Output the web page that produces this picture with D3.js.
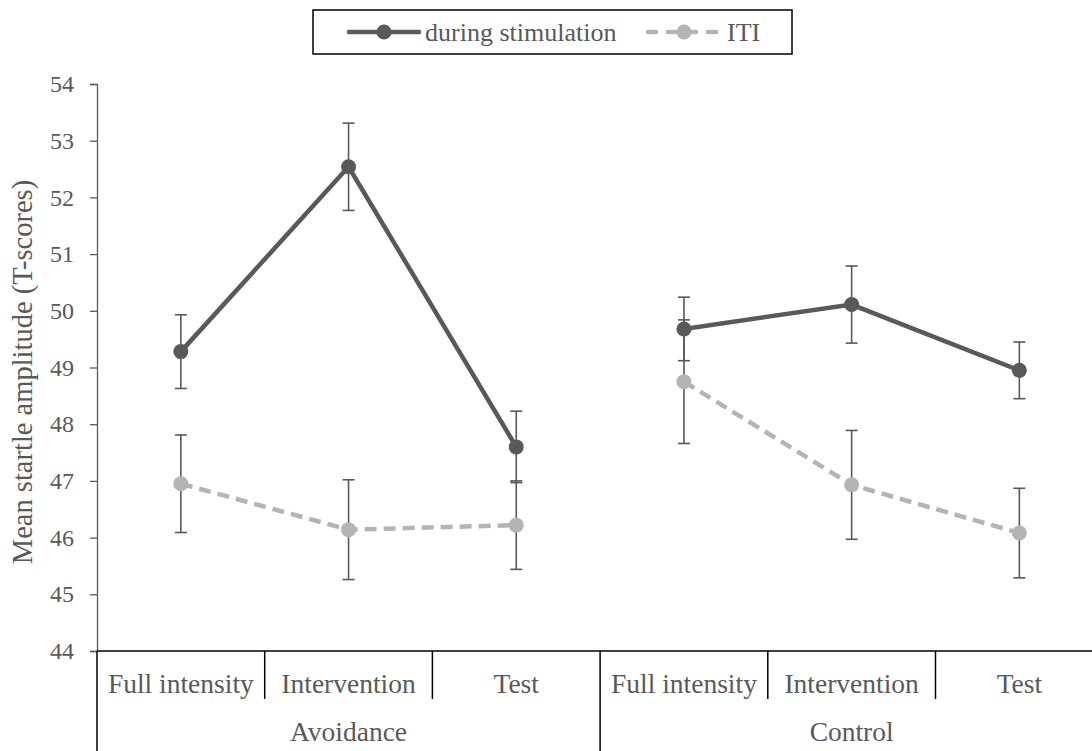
<!DOCTYPE html>
<html>
<head>
<meta charset="utf-8">
<script src="https://cdn.jsdelivr.net/npm/d3@7"></script>
<style>
  body { margin: 0; background: #fff; }
  svg text { font-family: "Liberation Serif", "Times New Roman", serif; fill: #595959; }
</style>
</head>
<body>
<div id="chart"></div>
<script>
// data
var groups = ['Avoidance', 'Control'];
var categories = ['Full intensity', 'Intervention', 'Test', 'Full intensity', 'Intervention', 'Test'];
var during = [49.28, 52.54, 47.60, 49.68, 50.11, 48.95];
var duringErr = [0.65, 0.77, 0.63, 0.56, 0.68, 0.50];
var iti = [46.95, 46.14, 46.22, 48.75, 46.93, 46.08];
var itiErr = [0.86, 0.88, 0.78, 1.09, 0.96, 0.79];
var yTicks = [44, 45, 46, 47, 48, 49, 50, 51, 52, 53, 54];
var seriesNames = ['during stimulation', 'ITI'];

var chart_width = 1092;
var chart_height = 751;
var plotLeft = 97, plotTop = 84, plotBottom = 651;
var catWidth = 167.7;

var svg = d3.select('#chart')
    .append('svg')
    .attr('width', chart_width)
    .attr('height', chart_height);

var xScale = d3.scaleBand()
    .domain(d3.range(categories.length))
    .range([plotLeft, plotLeft + catWidth * categories.length])
    .padding(0);

var yScale = d3.scaleLinear()
    .domain([44, 54])
    .range([plotBottom, plotTop]);

function cx(i) { return xScale(i) + xScale.bandwidth() / 2; }

// y axis
var yAxis = d3.axisLeft(yScale)
    .tickValues(yTicks)
    .tickSize(7)
    .tickPadding(16)
    .tickFormat(d3.format('d'));

var gy = svg.append('g')
    .attr('transform', 'translate(' + plotLeft + ',0)')
    .call(yAxis);
gy.select('.domain').attr('stroke', '#595959').attr('stroke-width', 1.3);
gy.selectAll('.tick line').attr('stroke', '#595959').attr('stroke-width', 1.3);
gy.selectAll('.tick text')
    .style('font-family', '"Liberation Serif", serif')
    .style('font-size', '24px')
    .attr('fill', '#595959');

// y title
svg.append('text')
    .attr('transform', 'translate(32,372) rotate(-90)')
    .attr('text-anchor', 'middle')
    .style('font-size', '28.5px')
    .text('Mean startle amplitude (T-scores)');

// x axis line and dividers
svg.append('line')
    .attr('x1', plotLeft).attr('x2', chart_width)
    .attr('y1', plotBottom).attr('y2', plotBottom)
    .attr('stroke', '#000').attr('stroke-width', 1.5);

svg.append('line')
    .attr('x1', plotLeft).attr('x2', plotLeft)
    .attr('y1', plotBottom).attr('y2', chart_height)
    .attr('stroke', '#000').attr('stroke-width', 1.5);

svg.selectAll('.divider')
    .data(d3.range(1, categories.length))
    .enter()
    .append('line')
    .attr('class', 'divider')
    .attr('x1', function(i) { return xScale(i); })
    .attr('x2', function(i) { return xScale(i); })
    .attr('y1', plotBottom)
    .attr('y2', function(i) { return i % 3 === 0 ? chart_height : plotBottom + 48; })
    .attr('stroke', '#000')
    .attr('stroke-width', 1.5);

svg.selectAll('.cat-label')
    .data(categories)
    .enter()
    .append('text')
    .attr('class', 'cat-label')
    .attr('x', function(d, i) { return cx(i); })
    .attr('y', 693)
    .attr('text-anchor', 'middle')
    .style('font-size', '27.5px')
    .text(function(d) { return d; });

svg.selectAll('.group-label')
    .data(groups)
    .enter()
    .append('text')
    .attr('class', 'group-label')
    .attr('x', function(d, g) { return (xScale(g * 3) + xScale(g * 3 + 2) + xScale.bandwidth()) / 2; })
    .attr('y', 741)
    .attr('text-anchor', 'middle')
    .style('font-size', '27.5px')
    .text(function(d) { return d; });

// series
var series = [
    { name: seriesNames[0], values: during, errs: duringErr, color: '#595959', dash: null },
    { name: seriesNames[1], values: iti, errs: itiErr, color: '#b4b4b4', dash: '12,7' }
];

series.forEach(function(s) {
    // each group is its own line segment
    [0, 1].forEach(function(g) {
        var pts = s.values.slice(g * 3, g * 3 + 3);
        svg.append('path')
            .datum(pts)
            .attr('d', d3.line()
                .x(function(d, i) { return cx(g * 3 + i); })
                .y(function(d) { return yScale(d); }))
            .attr('fill', 'none')
            .attr('stroke', s.color)
            .attr('stroke-width', 4.5)
            .attr('stroke-dasharray', s.dash);
    });
});

// error bars
series.forEach(function(s) {
    var eb = svg.append('g');
    s.values.forEach(function(v, i) {
        var x = cx(i);
        var y1 = yScale(v + s.errs[i]), y2 = yScale(v - s.errs[i]);
        eb.append('line').attr('x1', x).attr('x2', x).attr('y1', y1).attr('y2', y2);
        eb.append('line').attr('x1', x - 6).attr('x2', x + 6).attr('y1', y1).attr('y2', y1);
        eb.append('line').attr('x1', x - 6).attr('x2', x + 6).attr('y1', y2).attr('y2', y2);
    });
    eb.selectAll('line').attr('stroke', '#595959').attr('stroke-width', 1.6);
});

// markers
series.forEach(function(s) {
    svg.selectAll(null)
        .data(s.values)
        .enter()
        .append('circle')
        .attr('cx', function(d, i) { return cx(i); })
        .attr('cy', function(d) { return yScale(d); })
        .attr('r', 7.5)
        .attr('fill', s.color);
});

// legend
var legend = svg.append('g');
legend.append('rect')
    .attr('x', 313).attr('y', 10)
    .attr('width', 479).attr('height', 44)
    .attr('fill', '#fff')
    .attr('stroke', '#000')
    .attr('stroke-width', 1.5);

var legendPos = [{ x0: 349, x1: 419, tx: 425 }, { x0: 648, x1: 720, tx: 727 }];
series.forEach(function(s, k) {
    var p = legendPos[k];
    legend.append('line')
        .attr('x1', p.x0).attr('x2', p.x1)
        .attr('y1', 32).attr('y2', 32)
        .attr('stroke', s.color)
        .attr('stroke-width', 4.5)
        .attr('stroke-linecap', 'round')
        .attr('stroke-dasharray', s.dash ? '8,12' : null);
    legend.append('circle')
        .attr('cx', (p.x0 + p.x1) / 2)
        .attr('cy', 32)
        .attr('r', 7.5)
        .attr('fill', s.color);
    legend.append('text')
        .attr('x', p.tx)
        .attr('y', 41)
        .style('font-size', '26px')
        .text(s.name);
});
</script>
</body>
</html>
